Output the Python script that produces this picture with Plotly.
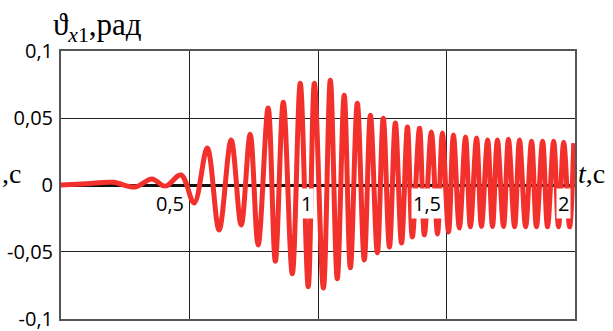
import plotly.graph_objects as go

# time (s) of the read-off points (extrema of the oscillation)
t = [0.0, 0.10, 0.203, 0.288, 0.354, 0.405, 0.467, 0.518, 0.569, 0.615, 0.662, 0.701,
     0.736, 0.767, 0.806, 0.834, 0.865, 0.900, 0.931, 0.962, 0.986, 1.021, 1.048,
     1.075, 1.102, 1.126, 1.153, 1.180, 1.204, 1.231, 1.254, 1.278, 1.301, 1.325,
     1.348, 1.367, 1.395, 1.414, 1.441, 1.465, 1.484, 1.508, 1.527, 1.550, 1.574,
     1.593, 1.617, 1.636, 1.660, 1.679, 1.698, 1.722, 1.741, 1.765, 1.784, 1.808,
     1.831, 1.850, 1.874, 1.893, 1.917, 1.936, 1.956, 1.979, 1.995]
# angle (rad)
theta = [0.0, 0.001, 0.002, -0.0015, 0.0045, -0.001, 0.0075, -0.0134, 0.0276, -0.0336, 0.0336, -0.0299,
         0.038, -0.0448, 0.0575, -0.057, 0.0619, -0.0664, 0.0761, -0.0761, 0.0761, -0.077, 0.0784,
         -0.0701, 0.0672, -0.0619, 0.0612, -0.056, 0.0522, -0.0507, 0.050, -0.0463, 0.0463, -0.0433,
         0.0433, -0.0388, 0.0425, -0.0373, 0.0396, -0.0366, 0.0388, -0.0351, 0.0373, -0.0321, 0.0358,
         -0.0313, 0.0351, -0.031, 0.0336, -0.031, 0.0336, -0.031, 0.0343, -0.0313, 0.0336, -0.0313,
         0.0328, -0.0313, 0.0328, -0.0313, 0.0328, -0.0313, 0.032, -0.0313, 0.0313]

y_ticks = [0.1, 0.05, 0, -0.05, -0.1]
y_labels = ["0,1", "0,05", "0", "-0,05", "-0,1"]
x_ticks = [0.5, 1, 1.5, 2]
x_labels = ["0,5", "1", "1,5", "2"]

SERIF = "Liberation Serif, DejaVu Serif, serif"

fig = go.Figure()
fig.add_trace(go.Scatter(
    x=t, y=theta, mode="lines",
    line=dict(color="#f2302c", width=5, shape="spline", smoothing=1.0),
    hoverinfo="skip", showlegend=False,
))

for xv, lab in zip(x_ticks, x_labels):
    fig.add_annotation(
        x=xv, y=0, xref="x", yref="y", text=lab, showarrow=False,
        xanchor="right", yanchor="top", xshift=-4, yshift=-3,
        bgcolor="white", borderpad=1,
        font=dict(family="Open Sans", size=20, color="black"),
    )

fig.add_annotation(
    x=0, y=1, xref="paper", yref="paper", xanchor="left", yanchor="bottom",
    xshift=-10, yshift=2,
    text="ϑ<sub><i>x</i>1</sub>,рад", showarrow=False,
    font=dict(family=SERIF, size=31, color="black"),
)
fig.add_annotation(
    x=1, y=0, xref="paper", yref="y", xanchor="left", yanchor="bottom",
    xshift=1, yshift=-6,
    text="<i>t</i>,c", showarrow=False,
    font=dict(family=SERIF, size=28, color="black"),
)
fig.add_annotation(
    x=0, y=0, xref="paper", yref="y", xanchor="left", yanchor="bottom",
    xshift=-61, yshift=-6,
    text=",c", showarrow=False,
    font=dict(family=SERIF, size=28, color="black"),
)

fig.update_layout(
    width=613, height=331,
    margin=dict(l=61, r=38, t=51, b=12, autoexpand=False),
    paper_bgcolor="white", plot_bgcolor="white",
    xaxis=dict(range=[0, 2], tickvals=x_ticks, showticklabels=False,
               showgrid=True, gridcolor="#222", gridwidth=1.2,
               zeroline=False, showline=True, mirror=True,
               linecolor="#555", linewidth=2, automargin=False),
    yaxis=dict(range=[-0.1002, 0.1002], tickvals=y_ticks, ticktext=y_labels,
               showgrid=True, gridcolor="#222", gridwidth=1.2,
               zeroline=True, zerolinecolor="#111", zerolinewidth=2.5,
               showline=True, mirror=True, linecolor="#555", linewidth=2,
               ticks="", ticklabelstandoff=2, ticklabeloverflow="allow",
               automargin=False,
               tickfont=dict(family="Open Sans", size=20, color="black")),
)
fig.write_html(
    "out.html",
    config={"displayModeBar": False},
    post_script="document.body.style.margin='0';document.body.style.padding='0';",
)
